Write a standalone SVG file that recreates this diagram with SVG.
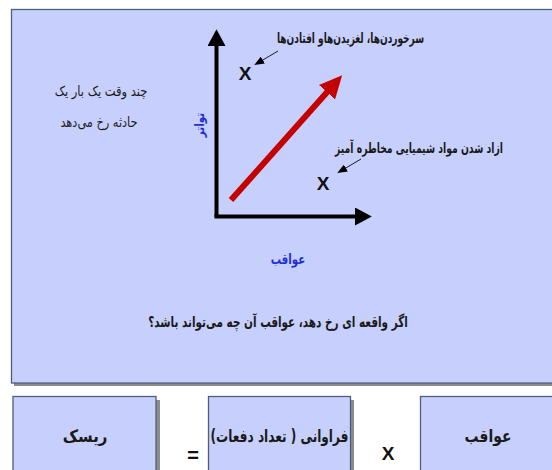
<svg xmlns="http://www.w3.org/2000/svg" width="552" height="470" viewBox="0 0 552 470">
<defs>
<style>
.panel{fill:#C7D0FD;stroke:#4E5C80;stroke-width:1.3}
.shadow{fill:#8C8C8C}
.fa{font-family:"DejaVu Sans","Noto Sans",sans-serif;font-weight:bold;fill:#1a1a1a;text-anchor:middle}
.fa-n{font-family:"DejaVu Sans","Noto Sans",sans-serif;font-weight:normal;fill:#1a1a1a;text-anchor:middle}
.blue{fill:#1F2FD6}
.lat{font-family:"Liberation Sans",Arial,sans-serif;font-weight:bold;fill:#111;text-anchor:middle}
.axis{stroke:#000;stroke-width:4;fill:none}
.ptr{stroke:#1a1a2a;stroke-width:1;fill:none}
</style>
<marker id="axHead" markerWidth="4.5" markerHeight="4.5" refX="0.5" refY="2.25" orient="auto" markerUnits="strokeWidth">
<path d="M0,0 L4.2,2.25 L0,4.5 Z" fill="#000"/>
</marker>
<marker id="redHead" markerWidth="4" markerHeight="3.6" refX="0.5" refY="1.8" orient="auto" markerUnits="strokeWidth">
<path d="M0,0 L3.8,1.8 L0,3.6 Z" fill="#C40000"/>
</marker>
<marker id="ptrHead" markerWidth="10" markerHeight="8" refX="1" refY="4" orient="auto" markerUnits="userSpaceOnUse">
<path d="M0,0 L10,4 L0,8 Z" fill="#000"/>
</marker>
</defs>

<g id="main-panel">
<rect class="shadow" x="14" y="12" width="545" height="374"/>
<rect class="panel" x="11.5" y="9.5" width="545" height="373.5"/>
</g>

<g id="connectors">
<line class="axis" x1="216.5" y1="217" x2="216.5" y2="44" marker-end="url(#axHead)"/>
<line class="axis" x1="214.5" y1="216.5" x2="357" y2="216.5" marker-end="url(#axHead)"/>
<line x1="231" y1="200" x2="329" y2="90" stroke="#C40000" stroke-width="6" marker-end="url(#redHead)"/>
<line class="ptr" x1="278" y1="51" x2="262" y2="60.5" marker-end="url(#ptrHead)"/>
<line class="ptr" x1="361" y1="159" x2="345" y2="168.5" marker-end="url(#ptrHead)"/>
</g>

<g id="x-marks">
<text class="lat" x="245" y="80" font-size="19">X</text>
<text class="lat" x="323" y="190" font-size="19">X</text>
</g>

<g id="label-falls">
<text class="fa" transform="translate(350.5,43) scale(0.645,1)" font-size="14">سرخوردن‌ها، لغزیدن‌هاو افتادن‌ها</text>
</g>
<g id="label-chemicals">
<text class="fa" transform="translate(419,153) scale(0.663,1)" font-size="14">ازاد شدن  مواد شیمیایی مخاطره آمیز</text>
</g>
<g id="label-frequency-question">
<text class="fa-n" transform="translate(101,96) scale(0.82,1)" font-size="14">چند وقت یک بار یک</text>
<text class="fa-n" transform="translate(99,127) scale(0.81,1)" font-size="14">حادثه رخ می‌دهد</text>
</g>
<g id="axis-y-label">
<text class="fa blue" transform="translate(204,125) rotate(-90) scale(0.8,1)" font-size="13">تواتر</text>
</g>
<g id="axis-x-label">
<text class="fa blue" transform="translate(288,264) scale(0.736,1)" font-size="14">عواقب</text>
</g>
<g id="label-consequence-question">
<text class="fa" transform="translate(278,327) scale(0.696,1)" font-size="15">اگر واقعه ای رخ دهد، عواقب آن چه می‌تواند باشد؟</text>
</g>

<g id="box-risk">
<rect class="shadow" x="156" y="400" width="4" height="75"/>
<rect class="panel" x="13" y="396.5" width="143" height="80"/>
<text class="fa" transform="translate(85,442) scale(0.88,1)" font-size="17">ریسک</text>
</g>
<g id="equals-sign">
<text class="lat" x="193" y="462" font-size="20">=</text>
</g>
<g id="box-frequency">
<rect class="shadow" x="350" y="400" width="4" height="75"/>
<rect class="panel" x="208.5" y="396.5" width="142" height="80"/>
<text class="fa" transform="translate(279.5,442) scale(0.711,1)" font-size="17">فراوانی ( تعداد دفعات)</text>
</g>
<g id="times-sign">
<text class="lat" x="388" y="460" font-size="19">X</text>
</g>
<g id="box-consequences">
<rect class="panel" x="420.5" y="396.5" width="140" height="80"/>
<text class="fa" transform="translate(488,442) scale(0.82,1)" font-size="17">عواقب</text>
</g>
</svg>
